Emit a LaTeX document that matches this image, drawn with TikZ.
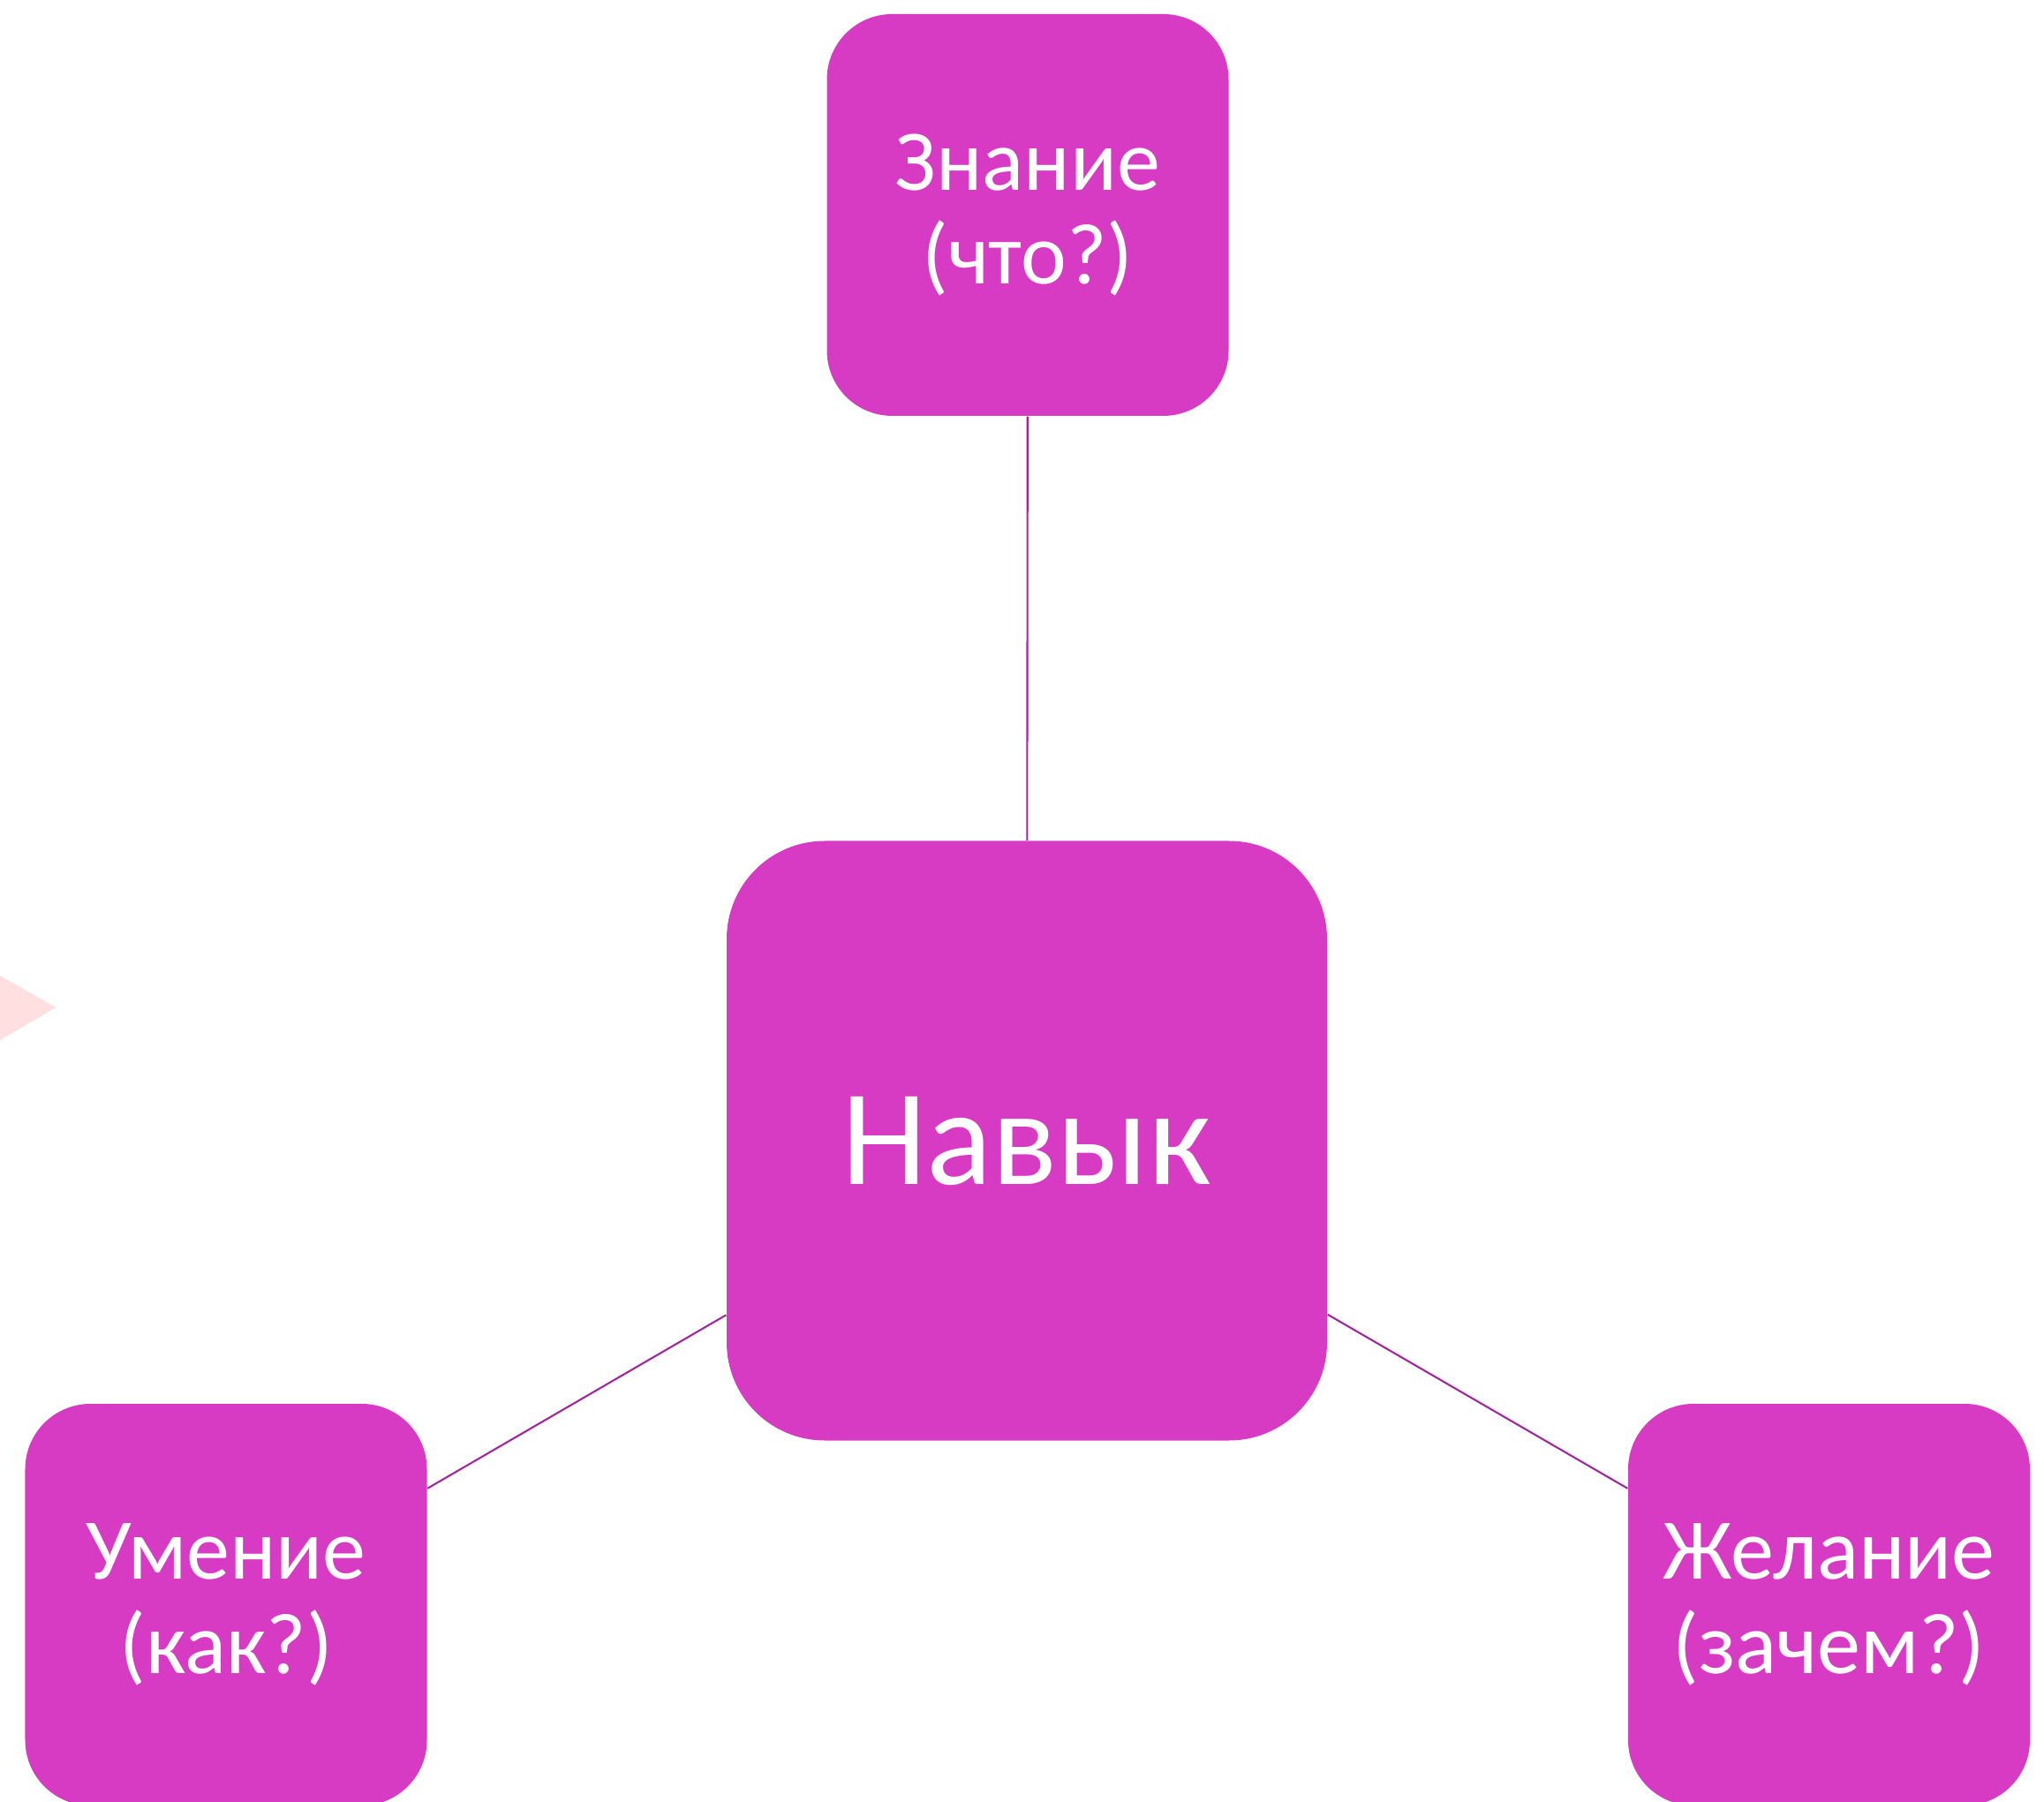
\documentclass[tikz,border=0pt]{standalone}
\usepackage{fontspec}
\setmainfont{Carlito}
\definecolor{boxfill}{HTML}{D73BC4}
\definecolor{linkline}{HTML}{A1279E}
\definecolor{arrowpink}{HTML}{FFDFE0}
\begin{document}
\begin{tikzpicture}[
  smallbox/.style={rectangle, fill=boxfill, text=white, align=center,
    minimum width=4.55cm, minimum height=4.55cm, rounded corners=0.74cm,
    font=\fontsize{27.9}{30.4}\selectfont},
  bigbox/.style={rectangle, fill=boxfill, text=white, align=center,
    minimum width=6.80cm, minimum height=6.79cm, rounded corners=1.11cm,
    font=\fontsize{44}{48}\selectfont},
  link/.style={draw=linkline, line width=0.6pt}]
  % Размер картинки: 1 пиксель = 0.01 см (2315 x 2040)
  \def\picw{23.15}
  \def\pich{20.40}
  \clip (0,0) rectangle (\picw,\pich);
  \useasboundingbox (0,0) rectangle (\picw,\pich);

  % ---- Стрелка слева (край) ----
  \fill[arrowpink] (-0.6,8.98) -- (0.63,8.99) -- (0,8.62) -- (-0.6,8.62) -- cycle;
  \fill[arrowpink] (0,9.35) -- (0.63,8.99) -- (0,8.62) -- cycle;

  % ---- Блоки ----
  \node[bigbox]   (skill)     at (11.63, 7.48)   {Навык};
  \node[smallbox] (knowledge) at (11.64, 17.965) {Знание\\(что?)};
  \node[smallbox] (ability)   at (2.56, 2.225)   {Умение\\(как?)};
  \node[smallbox] (desire)    at (20.715, 2.225) {Желание\\(зачем?)};

  % ---- Связи ----
  \draw[link] (knowledge) -- (skill);
  \draw[link] (skill) -- (ability);
  \draw[link] (skill) -- (desire);
\end{tikzpicture}
\end{document}
